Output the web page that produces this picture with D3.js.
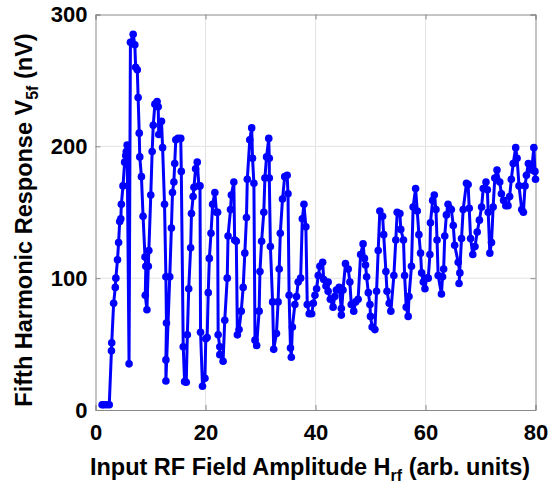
<!DOCTYPE html>
<html><head><meta charset="utf-8">
<script src="https://cdn.jsdelivr.net/npm/d3@7"></script>
<style>body{margin:0;background:#fff}svg{display:block}</style>
</head><body><div id="chart"></div>
<script>
const xValues = [1.2,1.5,2.0,2.5,2.9,2.95,3.3,3.6,3.7,4.0,4.2,4.4,4.6,4.7,5.0,5.3,5.5,5.6,5.75,6.1,6.35,6.85,7.15,7.3,7.6,7.75,7.95,8.05,8.35,8.65,9.0,9.15,9.05,9.35,9.6,9.7,10.05,10.3,10.5,10.8,11.2,11.4,11.5,12.0,12.2,12.55,12.8,12.9,12.8,12.8,13.5,13.8,14.0,14.25,14.4,14.6,15.0,15.5,15.6,15.95,16.2,16.5,16.7,16.95,17.3,17.45,17.75,17.9,18.2,18.5,18.8,19.0,19.1,19.45,19.9,20.05,20.3,20.5,20.7,21.0,21.3,21.7,22.0,22.2,22.3,22.6,22.6,23.2,23.5,23.95,24.1,24.55,24.7,25.15,25.3,25.6,25.8,26.1,26.5,26.85,27.15,27.45,27.6,28.05,28.4,28.55,28.8,29.0,29.3,29.75,29.9,30.2,30.6,30.8,31.1,31.5,31.6,31.6,31.8,32.2,32.4,32.9,33.2,33.4,33.6,34.0,34.4,34.85,35.0,35.2,35.45,35.6,35.8,36.25,36.55,36.85,37.3,37.6,37.9,38.25,38.5,38.85,39.3,39.6,39.9,40.2,40.5,40.8,41.3,41.5,41.9,42.3,42.3,42.7,43.2,43.5,43.8,44.3,44.7,44.7,45.0,45.45,45.95,46.25,46.5,46.95,47.3,47.75,48.2,48.65,48.9,49.1,49.3,49.6,49.9,50.0,50.3,50.8,51.1,51.4,51.7,52.2,52.4,52.8,53.0,53.4,53.7,54.25,54.6,54.85,55.35,55.5,56.0,56.2,56.5,56.85,57.0,57.45,57.75,58.2,58.5,58.8,59.1,59.3,59.6,59.9,60.2,60.5,60.8,60.9,61.3,61.6,61.9,62.1,62.3,62.9,63.1,63.3,63.5,63.8,64.1,64.4,64.7,65.05,65.3,65.95,66.25,66.1,66.55,66.85,67.45,67.75,67.95,68.2,68.6,69.0,69.4,69.8,70.2,70.5,71.0,71.25,71.4,71.7,72.0,72.3,72.6,73.0,73.5,73.8,74.2,74.6,75.0,75.3,75.6,75.95,76.4,76.65,77.0,77.5,77.8,78.1,78.35,78.7,79.3,79.7,79.9,80.0];
const yValues = [4,4,4,4,45,51,81,93,100,114,127,143,145,156,170,188,193,196,201,35,279,285,277,260,258,237,210,192,177,147,116,109,87,76,109,121,163,196,216,232,234,230,209,219,199,156,101,66,38,22,101,138,165,173,187,205,206,206,181,48,21.5,21,57,92,123,149,162,169,183,188,170,170,59,18,24,54,55,89,115,134,156,165,150,150,57,48,42,37,68,100,132,152,163,173,129,128,57,61,75,93,119,146,175,205,214,191,172,53,49,75,105,128,150,176,192,206,191,176,124,82,46,58,82,107,134,160,177,178,164,87,47,40,63,80,86,97,100,145,156,139,80,73,73,81,87,92,102,109,112,99,94,97,90,84,78,86,91,93,77,72,91,111,107,97,80,75,82,84,118,126,115,110,101,89,80,71,63,61,90,121,151,147,133,105,90,81,75,102,129,150,149,137,129,102,78,71,86,109,154,168,151,133,119,104,97,92,100,100,118,142,159,163,152,129,102,88,101,107,132,148,156,153,152,140,125,112,104,96,130,152,172,171,153,130,118,124,135,144,154,168,173,167,150,119,127,154,176,182,173,164,159,155,155,162,175,187,199,191,170,152,150,170,178,187,182,199,181,175];
const xTicks = [0,20,40,60,80];
const yTicks = [0,100,200,300];

const W = 550, H = 484;
const m = {left: 95.5, right: 14.5, top: 14.5, bottom: 74};
const FONT = "'Liberation Sans', Arial, sans-serif";
const svg = d3.select("#chart").append("svg").attr("width", W).attr("height", H)
  .style("font-family", FONT);
const x = d3.scaleLinear().domain([0, 80]).range([m.left, W - m.right]);
const y = d3.scaleLinear().domain([0, 300]).range([H - m.bottom, m.top]);

// grid
svg.append("g").selectAll("line").data(xTicks.slice(1, -1)).join("line")
  .attr("x1", d => x(d)).attr("x2", d => x(d)).attr("y1", y(0)).attr("y2", y(300))
  .attr("stroke", "#e3e3e3").attr("stroke-width", 1);
svg.append("g").selectAll("line").data(yTicks.slice(1, -1)).join("line")
  .attr("x1", x(0)).attr("x2", x(80)).attr("y1", d => y(d)).attr("y2", d => y(d))
  .attr("stroke", "#e3e3e3").attr("stroke-width", 1);

// axes (ticks inward)
const xb = svg.append("g").attr("transform", `translate(0,${y(0)})`)
  .call(d3.axisBottom(x).tickValues(xTicks).tickSize(-5).tickPadding(14).tickFormat(d3.format("d")));
const xt = svg.append("g").attr("transform", `translate(0,${y(300)})`)
  .call(d3.axisTop(x).tickValues(xTicks).tickSize(-5).tickFormat(""));
const yl = svg.append("g").attr("transform", `translate(${x(0)},0)`)
  .call(d3.axisLeft(y).tickValues(yTicks).tickSize(-5).tickPadding(8).tickFormat(d3.format("d")));
const yr = svg.append("g").attr("transform", `translate(${x(80)},0)`)
  .call(d3.axisRight(y).tickValues(yTicks).tickSize(-5).tickFormat(""));
[xb, xt, yl, yr].forEach(g => {
  g.select(".domain").attr("stroke", "#8a8a8a").attr("stroke-width", 1);
  g.selectAll(".tick line").attr("stroke", "#8a8a8a");
  g.selectAll("text").attr("fill", "#000").style("font-size", "22px").style("font-weight", "bold")
    .style("font-family", FONT);
});

// data line + markers
const pts = xValues.map((v, i) => [v, yValues[i]]);
svg.append("path").datum(pts)
  .attr("fill", "none").attr("stroke", "#0000ff").attr("stroke-width", 3).attr("stroke-linejoin", "round")
  .attr("d", d3.line().x(d => x(d[0])).y(d => y(d[1])));
svg.append("g").selectAll("circle").data(pts).join("circle")
  .attr("cx", d => x(d[0])).attr("cy", d => y(d[1])).attr("r", 3.8).attr("fill", "#0000ff");

// axis titles
const xTitle = svg.append("text").attr("x", 310).attr("y", 475).attr("text-anchor", "middle")
  .style("font-size", "23.5px").style("font-weight", "bold");
xTitle.append("tspan").text("Input RF Field Amplitude H");
xTitle.append("tspan").text("rf").attr("dy", 6).style("font-size", "16px");
xTitle.append("tspan").text(" (arb. units)").attr("dy", -6);

const yTitle = svg.append("text").attr("transform", "translate(32,220) rotate(-90)").attr("text-anchor", "middle")
  .style("font-size", "23.5px").style("font-weight", "bold");
yTitle.append("tspan").text("Fifth Harmonic Response V");
yTitle.append("tspan").text("5f").attr("dy", 6).style("font-size", "16px");
yTitle.append("tspan").text(" (nV)").attr("dy", -6);
</script></body></html>
